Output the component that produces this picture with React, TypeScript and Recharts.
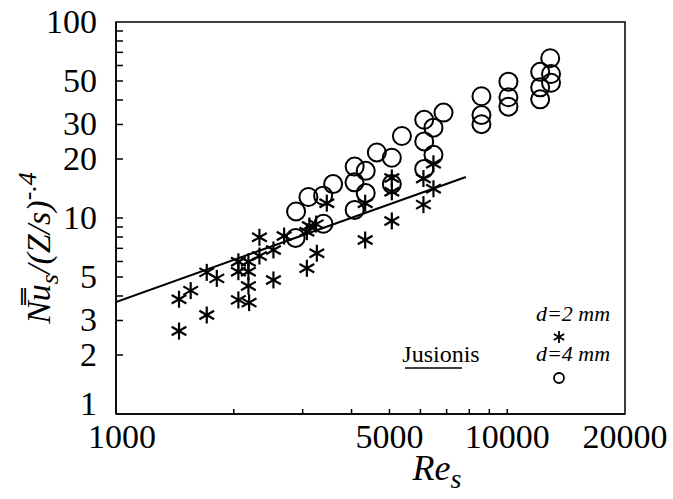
import React from 'react';
import { ScatterChart, Scatter, XAxis, YAxis, ReferenceArea } from 'recharts';

// d = 2 mm (asterisks)
const reD2 = [1449, 1552, 1449, 1706, 1810, 1706, 2055, 2055, 2180, 2180, 2180, 2055, 2189, 2326, 2326, 2526, 2526, 2690, 3075, 3121, 3075, 3261, 3248, 3458, 4334, 4334, 5070, 5070, 5070, 6107, 6107, 6478, 6478];
const nuD2 = [3.85, 4.26, 2.65, 5.28, 4.92, 3.2, 5.98, 5.32, 5.98, 5.32, 4.5, 3.82, 3.7, 7.97, 6.4, 6.87, 4.83, 8.09, 8.51, 9.1, 5.54, 6.61, 9.31, 11.9, 11.9, 7.72, 16.0, 13.6, 9.66, 15.9, 11.7, 18.9, 14.1];

// d = 4 mm (circles)
const reD4 = [2886, 2878, 3103, 3384, 3589, 3389, 4074, 4348, 4070, 4348, 4074, 4642, 5070, 5070, 5380, 6135, 6478, 6135, 6478, 6135, 6873, 8592, 8592, 8592, 10070, 10070, 10070, 12880, 12140, 12940, 12140, 12940, 12140];
const nuD4 = [10.8, 7.91, 12.8, 13.0, 14.9, 9.35, 18.3, 17.4, 15.2, 13.4, 11.0, 21.6, 20.3, 14.9, 26.2, 31.7, 28.9, 24.6, 21.0, 17.8, 34.5, 41.8, 33.5, 30.1, 49.6, 41.3, 37.0, 65.3, 55.7, 54.3, 46.4, 49.0, 40.3];

// Jusionis correlation line
const jusRe = [1000, 7840];
const jusNu = [3.73, 16.2];

const xTicks = [1000, 2000, 3000, 4000, 5000, 6000, 7000, 8000, 9000, 10000, 20000];
const xTickLabels = [1000, 5000, 10000, 20000];
const yTicks = [1, 2, 3, 4, 5, 6, 7, 8, 9, 10, 20, 30, 40, 50, 60, 70, 80, 90, 100];
const yTickLabels = [1, 2, 3, 5, 10, 20, 30, 50, 100];

const d2Data = reD2.map((re, i) => ({ re, nu: nuD2[i] }));
const d4Data = reD4.map((re, i) => ({ re, nu: nuD4[i] }));
const jusData = jusRe.map((re, i) => ({ re, nu: jusNu[i] }));

const FONT = '"Liberation Serif", "Times New Roman", serif';

const XTick = (props: any) => {
  const { x, y, payload } = props;
  const v = payload.value;
  const inner = v !== 1000 && v !== 20000;
  return (
    <g>
      {inner && <line x1={x} x2={x} y1={y} y2={y - 5} stroke="#000" strokeWidth={1.5} />}
      {xTickLabels.includes(v) && (
        <text x={x + (v === 1000 ? 6 : 0)} y={y + 34} textAnchor="middle" fontSize={34} fontFamily={FONT} fill="#000">
          {v}
        </text>
      )}
    </g>
  );
};

const YTick = (props: any) => {
  const { x, y, payload } = props;
  const v = payload.value;
  const inner = v !== 1 && v !== 100;
  return (
    <g>
      {inner && <line x1={x} x2={x + 7} y1={y} y2={y} stroke="#000" strokeWidth={1.5} />}
      {yTickLabels.includes(v) && (
        <text x={x - 19} y={y + 11 - (v === 1 ? 10 : 0)} textAnchor="end" fontSize={34} fontFamily={FONT} fill="#000">
          {v}
        </text>
      )}
    </g>
  );
};

const Star = (props: any) => {
  const { cx, cy } = props;
  const r = 8.5;
  const dx = r * Math.cos(Math.PI / 6);
  const dy = r * Math.sin(Math.PI / 6);
  return (
    <g stroke="#000" strokeWidth={2.2}>
      <line x1={cx} x2={cx} y1={cy - r} y2={cy + r} />
      <line x1={cx - dx} x2={cx + dx} y1={cy - dy} y2={cy + dy} />
      <line x1={cx - dx} x2={cx + dx} y1={cy + dy} y2={cy - dy} />
    </g>
  );
};

const Ring = (props: any) => {
  const { cx, cy } = props;
  return <circle cx={cx} cy={cy} r={9} fill="none" stroke="#000" strokeWidth={2} />;
};

const XTitle = () => (
  <text x={437} y={480} textAnchor="middle" fontSize={36} fontFamily={FONT} fontStyle="italic" fill="#000">
    Re
    <tspan fontSize={28} dy={8}>s</tspan>
  </text>
);

const YTitleAndLegend = () => (
  <g>
    <text
      transform="translate(50,248) rotate(-90)"
      textAnchor="middle"
      fontSize={34}
      fontFamily={FONT}
      fontStyle="italic"
      fill="#000"
    >
      {'N\u033Fu'}
      <tspan fontSize={26} dy={8}>s</tspan>
      <tspan fontSize={34} dy={-8}>/(Z/s)</tspan>
      <tspan fontSize={26} dy={-14}>-.4</tspan>
    </text>
    <text x={441} y={362} textAnchor="middle" fontSize={24} fontFamily={FONT} fill="#000">
      Jusionis
    </text>
    <line x1={405} x2={462} y1={368} y2={368} stroke="#000" strokeWidth={1.5} />
    <text x={573} y={321} textAnchor="middle" fontSize={22} fontFamily={FONT} fontStyle="italic" fill="#000">
      d=2 mm
    </text>
    <g stroke="#000" strokeWidth={1.8}>
      <line x1={559} x2={559} y1={331} y2={343} />
      <line x1={553.8} x2={564.2} y1={334} y2={340} />
      <line x1={553.8} x2={564.2} y1={340} y2={334} />
    </g>
    <text x={573} y={361} textAnchor="middle" fontSize={22} fontFamily={FONT} fontStyle="italic" fill="#000">
      d=4 mm
    </text>
    <circle cx={559} cy={378} r={5} fill="none" stroke="#000" strokeWidth={1.8} />
  </g>
);

export default function App() {
  return (
    <div style={{ position: 'absolute', left: 0, top: 0, width: 673, height: 499, background: '#fff' }}>
      <ScatterChart width={673} height={499} margin={{ top: 22, right: 48, bottom: 0, left: 0 }}>
        <XAxis
          dataKey="re"
          type="number"
          scale="log"
          domain={[1000, 20000]}
          allowDataOverflow
          ticks={xTicks}
          interval={0}
          tick={<XTick />}
          tickLine={false}
          tickSize={0}
          tickMargin={0}
          axisLine={{ stroke: '#000', strokeWidth: 1.5 }}
          height={85}
          label={{ content: () => <XTitle /> }}
        />
        <YAxis
          dataKey="nu"
          type="number"
          scale="log"
          domain={[1, 100]}
          allowDataOverflow
          ticks={yTicks}
          interval={0}
          tick={<YTick />}
          tickLine={false}
          tickSize={0}
          tickMargin={0}
          axisLine={{ stroke: '#000', strokeWidth: 1.5 }}
          width={116}
          label={{ content: () => <YTitleAndLegend /> }}
        />
        <ReferenceArea x1={1000} x2={20000} y1={1} y2={100} fill="none" stroke="#000" strokeWidth={1.5} ifOverflow="visible" />
        <Scatter
          data={jusData}
          line={{ stroke: '#000', strokeWidth: 2 }}
          shape={() => <g />}
          isAnimationActive={false}
        />
        <Scatter data={d2Data} shape={<Star />} isAnimationActive={false} />
        <Scatter data={d4Data} shape={<Ring />} isAnimationActive={false} />
      </ScatterChart>
    </div>
  );
}
